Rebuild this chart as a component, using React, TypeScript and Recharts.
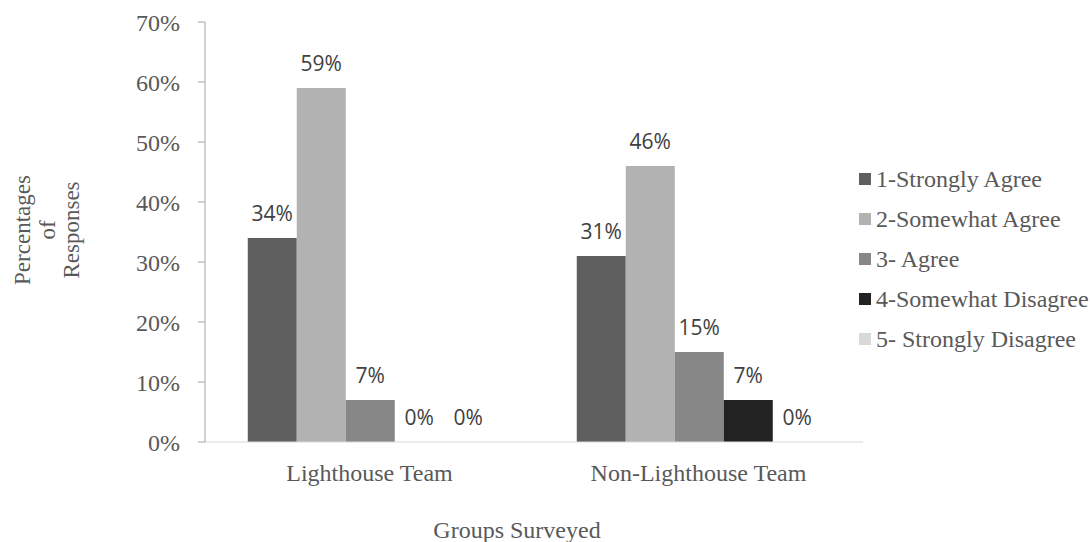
import { BarChart, Bar, XAxis, YAxis, LabelList } from 'recharts'

const groups = ['Lighthouse Team', 'Non-Lighthouse Team']
const seriesNames = [
  '1-Strongly Agree',
  '2-Somewhat Agree',
  '3- Agree',
  '4-Somewhat Disagree',
  '5- Strongly Disagree',
]
const stronglyAgree = [34, 31]
const somewhatAgree = [59, 46]
const agree = [7, 15]
const somewhatDisagree = [0, 7]
const stronglyDisagree = [0, 0]
const yTicks = [0, 10, 20, 30, 40, 50, 60, 70]

const COLORS = ['#5f5f5f', '#b2b2b2', '#878787', '#222222', '#d9d9d9']
const KEYS = ['s1', 's2', 's3', 's4', 's5']
const SERIF = '"Liberation Serif", "Times New Roman", serif'
const SANS = '"Open Sans", "Liberation Sans", sans-serif'

const chartData = groups.map((g, i) => ({
  name: g,
  s1: stronglyAgree[i],
  s2: somewhatAgree[i],
  s3: agree[i],
  s4: somewhatDisagree[i],
  s5: stronglyDisagree[i],
}))

function YLabel() {
  const lines = ['Percentages', 'of', 'Responses']
  return (
    <g>
      {lines.map((t, i) => (
        <text
          key={t}
          x={0}
          y={0}
          transform={`translate(${30 + i * 24.5}, 230) rotate(-90)`}
          textAnchor="middle"
          fontFamily={SERIF}
          fontSize={23}
          fill="#595959"
        >
          {t}
        </text>
      ))}
    </g>
  )
}

function XLabel() {
  return (
    <text x={517} y={538} textAnchor="middle" fontFamily={SERIF} fontSize={24} fill="#595959">
      Groups Surveyed
    </text>
  )
}

// labels drawn by hand so the 0% ones show too
function ValueLabel(props: any) {
  const { x, y, width, value } = props
  if (x == null || y == null) return null
  return (
    <text x={x + width / 2} y={y - 17} textAnchor="middle" fontFamily={SANS} fontSize={21} fill="#404040">
      {`${value}%`}
    </text>
  )
}

export default function App() {
  return (
    <div style={{ position: 'absolute', left: 0, top: 0, width: 1090, height: 542, background: '#fff' }}>
      <BarChart
        width={1090}
        height={542}
        data={chartData}
        margin={{ top: 22, right: 227, bottom: 70, left: 145 }}
        barGap={0}
        barCategoryGap="13%"
      >
        <XAxis
          dataKey="name"
          height={30}
          axisLine={{ stroke: '#d9d9d9' }}
          tickLine={false}
          tick={{ fontFamily: SERIF, fontSize: 24, fill: '#595959' }}
          tickMargin={16}
          label={{ content: () => <XLabel /> } as any}
        />
        <YAxis
          width={60}
          domain={[0, 70]}
          ticks={yTicks}
          interval={0}
          tickFormatter={(v: number) => `${v}%`}
          axisLine={{ stroke: '#a6a6a6' }}
          tickLine={{ stroke: '#a6a6a6' }}
          tickSize={7}
          tickMargin={18}
          tick={{ fontFamily: SERIF, fontSize: 24, fill: '#595959' }}
          label={{ content: () => <YLabel /> } as any}
        />
        {KEYS.map((k, i) => (
          <Bar key={k} dataKey={k} name={seriesNames[i]} fill={COLORS[i]} minPointSize={0.01} isAnimationActive={false}>
            <LabelList dataKey={k} content={(p: any) => <ValueLabel {...p} />} />
          </Bar>
        ))}
      </BarChart>
      <div
        style={{
          position: 'absolute',
          left: 859,
          top: 159,
          fontFamily: SERIF,
          fontSize: 24,
          color: '#595959',
          whiteSpace: 'nowrap',
        }}
      >
        {seriesNames.map((n, i) => (
          <div key={n} style={{ display: 'flex', alignItems: 'center', height: 40 }}>
            <span style={{ width: 12, height: 12, background: COLORS[i], marginRight: 5, display: 'inline-block' }} />
            <span>{n}</span>
          </div>
        ))}
      </div>
    </div>
  )
}
